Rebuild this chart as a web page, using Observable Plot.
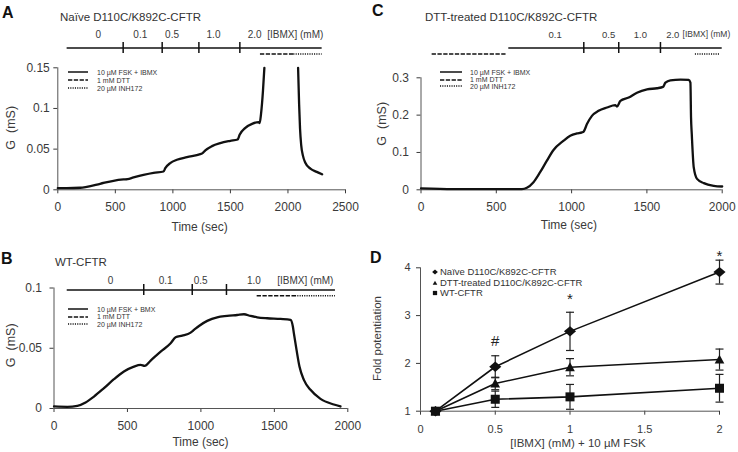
<!DOCTYPE html>
<html><head><meta charset="utf-8">
<script src="https://cdn.jsdelivr.net/npm/d3@7"></script>
<script src="https://cdn.jsdelivr.net/npm/@observablehq/plot@0.6"></script>
<style>
body{margin:0;background:#fff;}
#fig{position:relative;width:738px;height:452px;overflow:hidden;font-family:"Liberation Sans",Arial,sans-serif;color:#333;background:#fff;}
.abs{position:absolute;}
.abs svg{display:block;}
.letter{font-weight:bold;font-size:16px;line-height:16px;color:#111;white-space:nowrap;}
.title{font-size:11.5px;line-height:11.5px;white-space:nowrap;color:#333;}
.leg{font-size:7px;line-height:7px;white-space:nowrap;color:#333;}
.legD{font-size:9.5px;line-height:9.5px;white-space:nowrap;color:#333;}
</style></head><body><div id="fig"></div>
<script>
// ---------------- DATA ----------------
// Panel A: Naive D110C/K892C-CFTR (time s, G mS); null = off scale (>0.15 mS)
const timeA = [0,78,194,252,368,484,571,606,658,745,832,919,934,977,1035,1122,1238,1259,1282,1340,1412,1499,1563,1580,1630,1688,1746,1754,1766,1783,1795,1940,2088,2097,2105,2115,2130,2152,2195,2250,2297];
const gA    = [0.0020,0.0020,0.0025,0.0037,0.0074,0.0111,0.0127,0.0131,0.0152,0.0184,0.0209,0.0225,0.0266,0.0328,0.0369,0.0402,0.0439,0.0451,0.0484,0.0537,0.0574,0.0602,0.0619,0.0676,0.0762,0.0811,0.0832,0.0820,0.0934,0.122,0.15,null,0.15,0.105,0.075,0.055,0.042,0.033,0.026,0.022,0.019];
const ibmxSpanA = [81, 2297];
const ibmxTicksA = [568, 907, 1226, 1582];
const dttSpanA = [1761, 2051];
const inhSpanA = [2051, 2297];
const ibmxLabelsA = ["0","0.1","0.5","1.0","2.0"];
const ibmxLabelTimesA = [351, 717, 993, 1353, 1711];
const unitTimeA = 1820;

// Panel B: WT-CFTR
const timeB = [0,91,159,215,272,340,408,476,544,590,617,658,726,794,828,873,930,953,987,1043,1111,1179,1247,1293,1338,1383,1452,1542,1610,1626,1633,1651,1671,1701,1746,1814,1905,1950];
const gB    = [0.0017,0.0014,0.0022,0.0050,0.0099,0.0169,0.0243,0.0307,0.0348,0.0362,0.0354,0.0398,0.0472,0.0541,0.0591,0.0605,0.0630,0.0652,0.0685,0.0727,0.0757,0.0768,0.0776,0.0782,0.0768,0.0757,0.0749,0.0743,0.0735,0.0680,0.0624,0.0486,0.0348,0.0238,0.0155,0.0080,0.0033,0.0017];
const ibmxSpanB = [90, 1916];
const ibmxTicksB = [611, 941, 1174];
const dttSpanB = [1383, 1644];
const inhSpanB = [1644, 1916];
const ibmxLabelsB = ["0","0.1","0.5","1.0"];
const ibmxLabelTimesB = [385, 760, 998, 1361];
const unitTimeB = 1520;

// Panel C: DTT-treated D110C/K892C-CFTR
const timeC = [0,215,548,670,703,747,791,836,880,947,991,1035,1069,1080,1102,1135,1179,1235,1290,1301,1324,1379,1434,1501,1567,1607,1623,1656,1723,1778,1789,1793,1798,1811,1833,1878,1944,2000];
const gC    = [0.0036,0.0018,0.0018,0.0018,0.0053,0.0204,0.0471,0.0782,0.1067,0.1316,0.1449,0.1511,0.1538,0.156,0.176,0.198,0.2116,0.2204,0.2267,0.223,0.238,0.247,0.260,0.269,0.272,0.2756,0.287,0.2933,0.2951,0.2942,0.287,0.194,0.149,0.060,0.0293,0.0178,0.0107,0.0089];
const ibmxSpanC = [583, 2000];
const ibmxTicksC = [1081, 1313, 1590];
const dttSpanC = [74, 572];
const inhSpanC = [1822, 1988];
const ibmxLabelsC = ["0.1","0.5","1.0","2.0"];
const ibmxLabelTimesC = [891, 1246, 1457, 1672];
const unitTimeC = 1737;

const legendLabelsAC = ["10 µM FSK + IBMX", "1 mM DTT", "20 µM INH172"];
const legendLabelsB  = ["10 µM FSK + BMX", "1 mM DTT", "20 µM INH172"];

// Panel D: fold potentiation
const concD = [0.1, 0.5, 1, 2];
const naiveMean = [1, 1.93, 2.67, 3.91];
const naiveErr  = [0, 0.23, 0.40, 0.25];
const dttMean   = [1, 1.58, 1.92, 2.08];
const dttErr    = [0, 0.13, 0.18, 0.22];
const wtMean    = [1, 1.25, 1.30, 1.48];
const wtErr     = [0, 0.17, 0.26, 0.29];
const seriesNamesD = ["Naïve D110C/K892C-CFTR", "DTT-treated D110C/K892C-CFTR", "WT-CFTR"];
const sigX = [0.5, 1, 2];
const sigY = [2.47, 3.34, 4.25];
const sigLabel = ["#", "*", "*"];

// ---------------- HELPERS ----------------
const fig = document.getElementById("fig");
const FONT = '"Liberation Sans", Arial, sans-serif';
const DASH = "4.3,1.5", DOT = "1.1,1.2";

function place(node, left, top) {
  const d = document.createElement("div");
  d.className = "abs"; d.style.left = left + "px"; d.style.top = top + "px";
  d.appendChild(node); fig.appendChild(d); return d;
}
function htmlText(txt, cls, left, capCenter, fs) {
  const d = document.createElement("div");
  d.className = "abs " + cls; d.textContent = txt;
  d.style.left = left + "px"; d.style.top = (capCenter - 0.49 * fs) + "px";
  fig.appendChild(d);
}
const baseStyle = (fs) => ({background: "transparent", overflow: "visible", fontFamily: FONT, fontSize: fs + "px", color: "#3a3a3a"});

function tracePlot(c) {
  const pts = c.t.map((t, i) => ({t, g: c.g[i]}));
  return Plot.plot({
    width: c.w, height: c.h, marginLeft: c.ml, marginRight: c.mr, marginTop: c.mt, marginBottom: c.mb,
    style: baseStyle(12),
    x: {domain: [0, c.xmax], ticks: c.xticks, tickSize: 4, tickPadding: 9, tickFormat: d => String(d), label: null},
    y: {domain: [0, c.ymax], ticks: c.yticks, tickSize: 4, tickPadding: c.ypad, tickFormat: d => String(d), label: null},
    marks: [
      Plot.ruleX([0], {y1: 0, y2: c.ymax, stroke: "#555"}),
      Plot.ruleY([0], {x1: 0, x2: c.xmax, stroke: "#555"}),
      Plot.line(pts, {x: "t", y: "g", stroke: "#111", strokeWidth: 2.3, curve: "monotone-x"}),
      Plot.text(["G\u00a0\u00a0(mS)"], {text: d => d, frameAnchor: "left", textAnchor: "middle", rotate: -90, dx: c.yldx, dy: c.yldy, fontSize: 12.5, fill: "#3a3a3a"}),
      Plot.text(["Time (sec)"], {text: d => d, frameAnchor: "bottom", textAnchor: "middle", dx: c.xldx, dy: c.xldy, fontSize: 12, fill: "#3a3a3a"})
    ]
  });
}

function stripPlot(c) {
  const labs = c.labels.map((l, i) => ({l, t: c.labelTimes[i]}));
  const row = () => "IBMX";
  return Plot.plot({
    width: c.w, height: c.h, marginLeft: c.ml, marginRight: c.mr, marginTop: c.mt, marginBottom: c.mb,
    style: baseStyle(10),
    x: {domain: [0, c.xmax], axis: null},
    y: {type: "band", domain: ["IBMX"], padding: 0, axis: null},
    marks: [
      Plot.ruleY([c.span], {x1: d => d[0], x2: d => d[1], y: row, stroke: "#111", strokeWidth: 1.5}),
      Plot.tickX(c.ticks, {x: d => d, y: row, stroke: "#111", strokeWidth: 1.5}),
      Plot.ruleY([c.dtt], {x1: d => d[0], x2: d => d[1], y: row, dy: c.drugDy, stroke: "#111", strokeWidth: 1.6, strokeDasharray: DASH}),
      Plot.ruleY([c.inh], {x1: d => d[0], x2: d => d[1], y: row, dy: c.drugDy, stroke: "#111", strokeWidth: 1.6, strokeDasharray: DOT}),
      Plot.text(labs, {x: "t", y: row, text: "l", dy: c.labelDy, fontSize: c.fs, fill: "#3a3a3a"}),
      Plot.text(["[IBMX] (mM)"], {x: () => c.unitTime, y: row, text: d => d, textAnchor: "start", dy: c.labelDy, fontSize: c.ufs, fill: "#3a3a3a"})
    ]
  });
}

function lineLegend(labels, x0, x1, xt, ys) {
  const styles = [null, DASH, DOT];
  labels.forEach((lab, i) => {
    const svg = d3.create("svg").attr("width", x1 - x0).attr("height", 6);
    const ln = svg.append("line").attr("x1", 0).attr("x2", x1 - x0).attr("y1", 3).attr("y2", 3)
      .attr("stroke", "#111").attr("stroke-width", 1.5);
    if (styles[i]) ln.attr("stroke-dasharray", styles[i]);
    place(svg.node(), x0, ys[i] - 3);
    htmlText(lab, "leg", xt, ys[i], 7);
  });
}

// ---------------- CUSTOM SYMBOLS ----------------
const rad = s => Math.sqrt(s / Math.PI);
const symDiamond = {draw(ctx, s) { const r = rad(s); ctx.moveTo(0, -r * 0.95); ctx.lineTo(r * 1.1, 0); ctx.lineTo(0, r * 0.95); ctx.lineTo(-r * 1.1, 0); ctx.closePath(); }};
const symSquare  = {draw(ctx, s) { const r = rad(s) * 0.82; ctx.moveTo(-r, -r); ctx.lineTo(r, -r); ctx.lineTo(r, r); ctx.lineTo(-r, r); ctx.closePath(); }};
const symTri     = {draw(ctx, s) { const r = rad(s); ctx.moveTo(0, -r * 0.9); ctx.lineTo(r * 0.88, r * 0.72); ctx.lineTo(-r * 0.88, r * 0.72); ctx.closePath(); }};
const symCap     = {draw(ctx, s) { const r = rad(s); ctx.moveTo(-r, 0); ctx.lineTo(r, 0); }};

// ---------------- PANEL A ----------------
place(stripPlot({w: 370, h: 35, ml: 57.3, mr: 25, mt: 16.7, mb: 6.7, xmax: 2500,
  span: ibmxSpanA, ticks: ibmxTicksA, dtt: dttSpanA, inh: inhSpanA, fs: 10, ufs: 10,
  labels: ibmxLabelsA, labelTimes: ibmxLabelTimesA, unitTime: unitTimeA, labelDy: -13.5, drugDy: 6}), 0, 25);
place(tracePlot({t: timeA, g: gA, w: 370, h: 185, ml: 57.3, mr: 25, mt: 12.3, mb: 50.7,
  xmax: 2500, xticks: [0, 500, 1000, 1500, 2000, 2500], ymax: 0.15, yticks: [0, 0.05, 0.1, 0.15], ypad: 4,
  yldx: -47.3, yldy: -1, xldx: -2, xldy: 40.7}), 0, 55);
htmlText("A", "letter", 2, 12.8, 16);
htmlText("Naïve D110C/K892C-CFTR", "title", 60, 17.5, 11.5);
lineLegend(legendLabelsAC, 68, 88, 97, [72.3, 80, 88]);

// ---------------- PANEL C ----------------
place(stripPlot({w: 368, h: 35, ml: 50.5, mr: 16.3, mt: 16.7, mb: 6.7, xmax: 2000,
  span: ibmxSpanC, ticks: ibmxTicksC, dtt: dttSpanC, inh: inhSpanC, fs: 9.5, ufs: 8.5,
  labels: ibmxLabelsC, labelTimes: ibmxLabelTimesC, unitTime: unitTimeC, labelDy: -13.5, drugDy: 6}), 370, 25);
place(tracePlot({t: timeC, g: gC, w: 368, h: 185, ml: 50.5, mr: 16.3, mt: 22.3, mb: 50.7,
  xmax: 2000, xticks: [0, 500, 1000, 1500, 2000], ymax: 0.3, yticks: [0, 0.1, 0.2, 0.3], ypad: 8,
  yldx: -38.8, yldy: -10, xldx: -2.7, xldy: 39}), 370, 55);
htmlText("C", "letter", 372, 10.5, 16);
htmlText("DTT-treated D110C/K892C-CFTR", "title", 425, 17.5, 11.5);
lineLegend(legendLabelsAC, 440, 462, 470, [72.3, 79.5, 86.3]);

// ---------------- PANEL B ----------------
place(stripPlot({w: 370, h: 35, ml: 53.5, mr: 22.7, mt: 18.3, mb: 5, xmax: 2000,
  span: ibmxSpanB, ticks: ibmxTicksB, dtt: dttSpanB, inh: inhSpanB, fs: 10, ufs: 10,
  labels: ibmxLabelsB, labelTimes: ibmxLabelTimesB, unitTime: unitTimeB, labelDy: -9.2, drugDy: 5.8}), 0, 265);
place(tracePlot({t: timeB, g: gB, w: 370, h: 177, ml: 53.5, mr: 22.7, mt: 12.5, mb: 44,
  xmax: 2000, xticks: [0, 500, 1000, 1500, 2000], ymax: 0.1, yticks: [0, 0.05, 0.1], ypad: 8,
  yldx: -43.5, yldy: -3, xldx: -0.4, xldy: 37}), 0, 275);
htmlText("B", "letter", 1, 259, 16);
htmlText("WT-CFTR", "title", 55, 263, 11.5);
lineLegend(legendLabelsB, 68, 88, 97, [309.3, 316.7, 324]);

// ---------------- PANEL D ----------------
const mk = (means, errs, name) => concD.map((c, i) => ({c, m: means[i], e: errs[i], name}));
const sN = mk(naiveMean, naiveErr, seriesNamesD[0]);
const sT = mk(dttMean, dttErr, seriesNamesD[1]);
const sW = mk(wtMean, wtErr, seriesNamesD[2]);
const allD = [...sN, ...sT, ...sW];
const errD = allD.filter(d => d.e > 0);
const sigs = sigX.map((x, i) => ({x, y: sigY[i], l: sigLabel[i]}));
const plotD = Plot.plot({
  width: 368, height: 207, marginLeft: 50, marginRight: 19, marginTop: 22.3, marginBottom: 41.3,
  style: baseStyle(11),
  x: {domain: [0, 2], ticks: [0, 0.5, 1, 1.5, 2], tickSize: 4, tickPadding: 9.7, tickFormat: d => String(d), label: null},
  y: {domain: [1, 4], ticks: [1, 2, 3, 4], tickSize: 4, tickPadding: 6, tickFormat: d => String(d), label: null},
  marks: [
    Plot.ruleX([0], {y1: 1, y2: 4, stroke: "#555"}),
    Plot.ruleY([1], {x1: 0, x2: 2, stroke: "#555"}),
    Plot.ruleX(errD, {x: "c", y1: d => d.m - d.e, y2: d => d.m + d.e, stroke: "#222", strokeWidth: 1.2}),
    Plot.dot(errD, {x: "c", y: d => d.m + d.e, symbol: symCap, r: 4, stroke: "#222", strokeWidth: 1.2, fill: "none"}),
    Plot.dot(errD, {x: "c", y: d => d.m - d.e, symbol: symCap, r: 4, stroke: "#222", strokeWidth: 1.2, fill: "none"}),
    Plot.line(allD, {x: "c", y: "m", z: "name", stroke: "#111", strokeWidth: 1.6}),
    Plot.dot(sN, {x: "c", y: "m", symbol: symDiamond, r: 5.5, fill: "#111", stroke: "none"}),
    Plot.dot(sT, {x: "c", y: "m", symbol: symTri, r: 5.5, fill: "#111", stroke: "none"}),
    Plot.dot(sW, {x: "c", y: "m", symbol: symSquare, r: 5.5, fill: "#111", stroke: "none"}),
    Plot.text(sigs, {x: "x", y: "y", text: "l", fontSize: 15, fill: "#222"}),
    Plot.text(["Fold potentiation"], {text: d => d, frameAnchor: "left", textAnchor: "middle", rotate: -90, dx: -43.3, dy: -1, fontSize: 11.5, fill: "#3a3a3a"}),
    Plot.text(["[IBMX] (mM) + 10 µM FSK"], {text: d => d, frameAnchor: "bottom", textAnchor: "middle", dx: 8, dy: 36, fontSize: 11.5, fill: "#3a3a3a"})
  ]
});
place(plotD, 370, 245);
htmlText("D", "letter", 370, 258.3, 16);
// legend D
[symDiamond, symTri, symSquare].forEach((sym, i) => {
  const ys = [271.7, 282.7, 292.7];
  const svg = d3.create("svg").attr("width", 8).attr("height", 8);
  svg.append("path").attr("transform", "translate(4,4)").attr("fill", "#111")
    .attr("d", d3.symbol(sym, Math.PI * 2.6 * 2.6)());
  place(svg.node(), 431, ys[i] - 4);
  htmlText(seriesNamesD[i], "legD", 440, ys[i], 9.5);
});
</script></body></html>
